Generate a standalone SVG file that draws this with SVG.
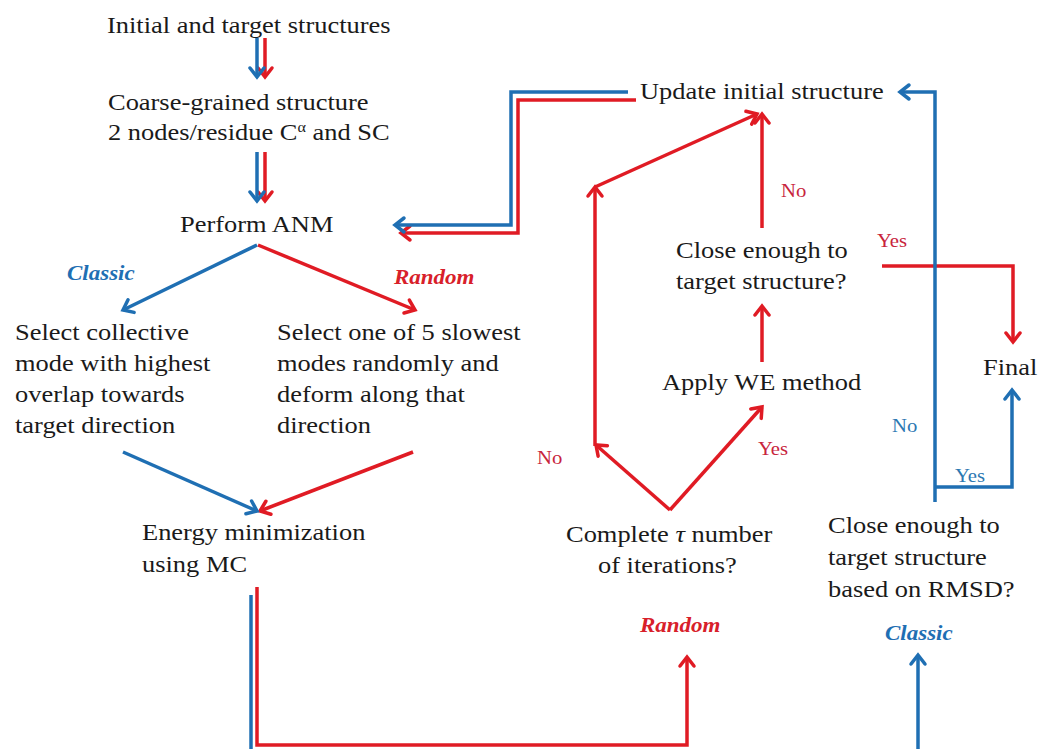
<svg xmlns="http://www.w3.org/2000/svg" width="1038" height="749" viewBox="0 0 1038 749">
<style>
.t{font-family:"Liberation Serif","Times New Roman",serif;font-size:23px;fill:#1a1a1a}
.lr{font-family:"Liberation Serif","Times New Roman",serif;font-size:18px;fill:#c8243c}
.lb{font-family:"Liberation Serif","Times New Roman",serif;font-size:18px;fill:#2c78b2}
.br{font-family:"Liberation Serif","Times New Roman",serif;font-size:20px;font-weight:bold;font-style:italic;fill:#d8202a}
.bb{font-family:"Liberation Serif","Times New Roman",serif;font-size:20px;font-weight:bold;font-style:italic;fill:#1f6fb3}
.cb{fill:none;stroke:#1f6fb3;stroke-width:3.5;stroke-linejoin:miter}
.cr{fill:none;stroke:#e01b24;stroke-width:3.5;stroke-linejoin:miter}
.cb.a{marker-end:url(#ab)}
.cr.a{marker-end:url(#ar)}
</style>
<defs>
<marker id="ab" markerUnits="userSpaceOnUse" viewBox="-13 -10 16 20" markerWidth="16" markerHeight="20" refX="0" refY="0" orient="auto"><path d="M-9,-7 L0,0 L-9,7" fill="none" stroke="#1f6fb3" stroke-width="3.5" stroke-linecap="round" stroke-linejoin="miter"/></marker>
<marker id="ar" markerUnits="userSpaceOnUse" viewBox="-13 -10 16 20" markerWidth="16" markerHeight="20" refX="0" refY="0" orient="auto"><path d="M-9,-7 L0,0 L-9,7" fill="none" stroke="#e01b24" stroke-width="3.5" stroke-linecap="round" stroke-linejoin="miter"/></marker>
</defs>
<rect width="1038" height="749" fill="#ffffff"/>
<g id="connectors">
<path class="cr a" d="M265,38 L265,77"/>
<path class="cr a" d="M265,152 L265,201"/>
<path class="cr a" d="M258,245 L415,310"/>
<path class="cr a" d="M413,452 L260,511"/>
<path class="cr a" d="M636,100 L518,100 L518,233 L401,233"/>
<path class="cr a" d="M257,587 L257,745 L687,745 L687,657"/>
<path class="cr a" d="M670,510 L596,445"/>
<path class="cr a" d="M670,510 L762,407"/>
<path class="cr a" d="M595,446 L595,187"/>
<path class="cr a" d="M595,187 L757,114"/>
<path class="cr a" d="M762,362 L762,306"/>
<path class="cr a" d="M762,228 L762,114"/>
<path class="cr a" d="M882,266 L1013,266 L1013,342"/>
<path class="cb a" d="M257,38 L257,77"/>
<path class="cb a" d="M257,152 L257,201"/>
<path class="cb a" d="M257,245 L123,310"/>
<path class="cb a" d="M123,452 L257,511"/>
<path class="cb a" d="M628,92 L511,92 L511,225 L395,225"/>
<path class="cb" d="M251,595 L251,749"/>
<path class="cb a" d="M918,749 L918,655"/>
<path class="cb a" d="M935,502 L935,92 L900,92"/>
<path class="cb a" d="M935,487 L1012,487 L1012,390"/>
</g>
<g id="n-initial"><text class="t" transform="translate(107 33) scale(1.15 1)">Initial and target structures</text></g>
<g id="n-coarse">
<text class="t" transform="translate(108 110) scale(1.15 1)">Coarse-grained structure</text>
<text class="t" transform="translate(108 140) scale(1.15 1)">2 nodes/residue C<tspan font-size="14" dy="-8">α</tspan><tspan dy="8"> and SC</tspan></text>
</g>
<g id="n-anm"><text class="t" transform="translate(180 232) scale(1.15 1)">Perform ANM</text></g>
<g id="l-classic1"><text class="bb" transform="translate(67 280) scale(1.15 1)">Classic</text></g>
<g id="l-random1"><text class="br" transform="translate(394 284) scale(1.15 1)">Random</text></g>
<g id="n-select-collective">
<text class="t" transform="translate(15 340) scale(1.15 1)">Select collective</text>
<text class="t" transform="translate(15 371) scale(1.15 1)">mode with highest</text>
<text class="t" transform="translate(15 402) scale(1.15 1)">overlap towards</text>
<text class="t" transform="translate(15 433) scale(1.15 1)">target direction</text>
</g>
<g id="n-select-random">
<text class="t" transform="translate(277 340) scale(1.15 1)">Select one of 5 slowest</text>
<text class="t" transform="translate(277 371) scale(1.15 1)">modes randomly and</text>
<text class="t" transform="translate(277 402) scale(1.15 1)">deform along that</text>
<text class="t" transform="translate(277 433) scale(1.15 1)">direction</text>
</g>
<g id="n-energy">
<text class="t" transform="translate(142 540) scale(1.15 1)">Energy minimization</text>
<text class="t" transform="translate(142 572) scale(1.15 1)">using MC</text>
</g>
<g id="n-complete">
<text class="t" transform="translate(566 542) scale(1.15 1)">Complete <tspan font-style="italic">τ</tspan> number</text>
<text class="t" transform="translate(598 573) scale(1.15 1)">of iterations?</text>
</g>
<g id="l-random2"><text class="br" transform="translate(640 632) scale(1.15 1)">Random</text></g>
<g id="l-classic2"><text class="bb" transform="translate(885 640) scale(1.15 1)">Classic</text></g>
<g id="n-close-rmsd">
<text class="t" transform="translate(828 533) scale(1.15 1)">Close enough to</text>
<text class="t" transform="translate(828 565) scale(1.15 1)">target structure</text>
<text class="t" transform="translate(828 597) scale(1.15 1)">based on RMSD?</text>
</g>
<g id="n-update"><text class="t" transform="translate(640 99) scale(1.15 1)">Update initial structure</text></g>
<g id="n-close"><text class="t" transform="translate(676 258) scale(1.15 1)">Close enough to</text>
<text class="t" transform="translate(676 289) scale(1.15 1)">target structure?</text></g>
<g id="n-final"><text class="t" transform="translate(983 375) scale(1.15 1)">Final</text></g>
<g id="n-apply"><text class="t" transform="translate(662 390) scale(1.15 1)">Apply WE method</text></g>
<g id="labels">
<text class="lr" transform="translate(781 197) scale(1.15 1)">No</text>
<text class="lr" transform="translate(877 247) scale(1.15 1)">Yes</text>
<text class="lb" transform="translate(892 432) scale(1.15 1)">No</text>
<text class="lr" transform="translate(758 455) scale(1.15 1)">Yes</text>
<text class="lr" transform="translate(537 464) scale(1.15 1)">No</text>
<text class="lb" transform="translate(955 482) scale(1.15 1)">Yes</text>
</g>
</svg>
